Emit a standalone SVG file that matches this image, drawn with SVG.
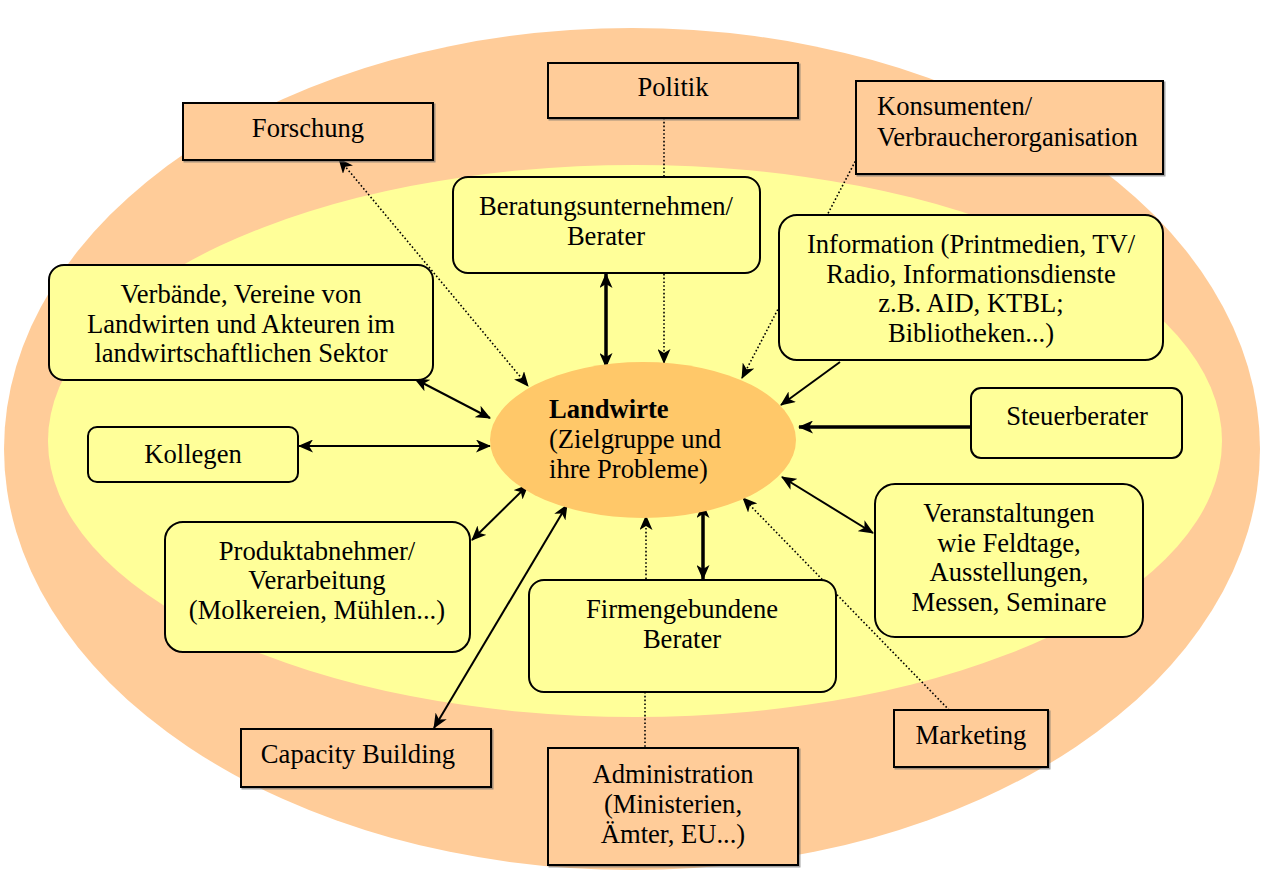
<svg xmlns="http://www.w3.org/2000/svg" width="1264" height="870" viewBox="0 0 1264 870">
<defs>
<style>
.t{font-family:"Liberation Serif","Times New Roman",serif;font-size:26.6px;fill:#000;text-anchor:middle}
.l{text-anchor:start}
.box{fill:#FFCC99;stroke:#000;stroke-width:2;filter:url(#sh)}
.rbox{fill:#FFFF99;stroke:#000;stroke-width:2}
.ln{stroke:#000;stroke-width:2;fill:none}
.thick{stroke:#000;stroke-width:3.5;fill:none}
.dot{stroke:#000;stroke-width:1.6;stroke-dasharray:1.6 2.2;fill:none}
</style>
<filter id="sh" x="-5%" y="-5%" width="110%" height="115%">
<feDropShadow dx="1.5" dy="1.5" stdDeviation="0.4" flood-color="#666" flood-opacity="0.6"/>
</filter>
<marker id="a" viewBox="0 0 15 13" markerWidth="15" markerHeight="13" refX="14" refY="6.5" orient="auto-start-reverse" markerUnits="userSpaceOnUse">
<path d="M0,0 L15,6.5 L0,13 L4,6.5 z" fill="#000"/>
</marker>
</defs>
<rect width="1264" height="870" fill="#fff"/>
<g id="background">
<ellipse cx="632" cy="449" rx="628" ry="421" fill="#FFCC99"/>
<ellipse cx="635" cy="441" rx="587" ry="276" fill="#FFFF99"/>
</g>
<g id="connectors">
<line class="dot" x1="339" y1="159" x2="528" y2="386" marker-start="url(#a)" marker-end="url(#a)"/>
<line class="ln" x1="415" y1="379" x2="490" y2="418" marker-start="url(#a)" marker-end="url(#a)"/>
<line class="ln" x1="299" y1="446" x2="490" y2="446" marker-start="url(#a)" marker-end="url(#a)"/>
<line class="ln" x1="472" y1="540" x2="528" y2="485" marker-start="url(#a)" marker-end="url(#a)"/>
<line class="ln" x1="434" y1="728" x2="567" y2="505" marker-start="url(#a)" marker-end="url(#a)"/>
<line class="dot" x1="646" y1="579" x2="646" y2="516" marker-end="url(#a)"/>
<line class="thick" x1="703" y1="504" x2="703" y2="579" marker-start="url(#a)" marker-end="url(#a)"/>
<line class="dot" x1="645" y1="692" x2="645" y2="748"/>
<line class="dot" x1="952" y1="713" x2="743" y2="498" marker-end="url(#a)"/>
<line class="ln" x1="782" y1="477" x2="873" y2="533" marker-start="url(#a)" marker-end="url(#a)"/>
<line class="thick" x1="971" y1="427" x2="799" y2="427" marker-end="url(#a)"/>
<line class="ln" x1="840" y1="362" x2="781" y2="405" marker-end="url(#a)"/>
<line class="dot" x1="857" y1="158" x2="742" y2="378" marker-end="url(#a)"/>
<line class="dot" x1="664" y1="118" x2="664" y2="363" marker-end="url(#a)"/>
<line class="thick" x1="606" y1="274" x2="606" y2="367" marker-start="url(#a)" marker-end="url(#a)"/>
</g>
<g id="landwirte">
<ellipse cx="643" cy="440" rx="153" ry="78" fill="#FFC869"/>
<text class="t l" x="549" y="418" font-weight="bold">Landwirte</text>
<text class="t l" x="549" y="448">(Zielgruppe und</text>
<text class="t l" x="549" y="478">ihre Probleme)</text>
</g>
<g id="politik">
<rect class="box" x="548" y="63" width="250" height="55"/>
<text class="t" x="673" y="96">Politik</text>
</g>
<g id="forschung">
<rect class="box" x="183" y="103" width="250" height="57"/>
<text class="t" x="308" y="137">Forschung</text>
</g>
<g id="konsumenten">
<rect class="box" x="856" y="81" width="307" height="93"/>
<text class="t l" x="877" y="115">Konsumenten/</text>
<text class="t l" x="877" y="146">Verbraucherorganisation</text>
</g>
<g id="beratung">
<rect class="rbox" x="453" y="177" width="307" height="96" rx="15"/>
<text class="t" x="606" y="215">Beratungsunternehmen/</text>
<text class="t" x="606" y="245">Berater</text>
</g>
<g id="information">
<rect class="rbox" x="779" y="215" width="384" height="145" rx="18"/>
<text class="t" x="971" y="253">Information (Printmedien, TV/</text>
<text class="t" x="971" y="283">Radio, Informationsdienste</text>
<text class="t" x="971" y="312">z.B. AID, KTBL;</text>
<text class="t" x="971" y="342">Bibliotheken...)</text>
</g>
<g id="verbaende">
<rect class="rbox" x="49" y="265" width="384" height="115" rx="15"/>
<text class="t" x="241" y="303">Verbände, Vereine von</text>
<text class="t" x="241" y="333">Landwirten und Akteuren im</text>
<text class="t" x="241" y="362">landwirtschaftlichen Sektor</text>
</g>
<g id="kollegen">
<rect class="rbox" x="88" y="427" width="210" height="55" rx="9"/>
<text class="t" x="193" y="463">Kollegen</text>
</g>
<g id="steuerberater">
<rect class="rbox" x="971" y="388" width="211" height="70" rx="10"/>
<text class="t" x="1077" y="425">Steuerberater</text>
</g>
<g id="produktabnehmer">
<rect class="rbox" x="165" y="522" width="305" height="130" rx="18"/>
<text class="t" x="317" y="560">Produktabnehmer/</text>
<text class="t" x="317" y="589">Verarbeitung</text>
<text class="t" x="317" y="619">(Molkereien, Mühlen...)</text>
</g>
<g id="firmengebundene">
<rect class="rbox" x="529" y="580" width="307" height="112" rx="15"/>
<text class="t" x="682" y="618">Firmengebundene</text>
<text class="t" x="682" y="648">Berater</text>
</g>
<g id="veranstaltungen">
<rect class="rbox" x="875" y="484" width="268" height="153" rx="20"/>
<text class="t" x="1009" y="522">Veranstaltungen</text>
<text class="t" x="1009" y="552">wie Feldtage,</text>
<text class="t" x="1009" y="581">Ausstellungen,</text>
<text class="t" x="1009" y="611">Messen, Seminare</text>
</g>
<g id="capacity">
<rect class="box" x="241" y="729" width="250" height="58"/>
<text class="t" x="358" y="763">Capacity Building</text>
</g>
<g id="administration">
<rect class="box" x="548" y="748" width="250" height="117"/>
<text class="t" x="673" y="783">Administration</text>
<text class="t" x="673" y="813">(Ministerien,</text>
<text class="t" x="673" y="843">Ämter, EU...)</text>
</g>
<g id="marketing">
<rect class="box" x="894" y="710" width="154" height="57"/>
<text class="t" x="971" y="744">Marketing</text>
</g>
</svg>
